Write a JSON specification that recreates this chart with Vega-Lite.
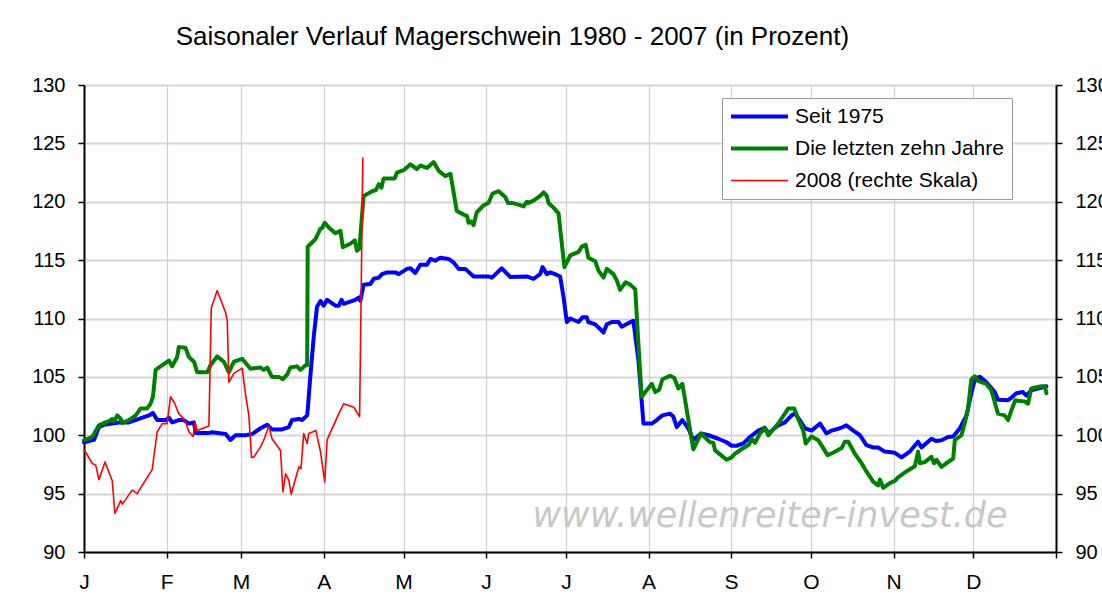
{
  "$schema": "https://vega.github.io/schema/vega-lite/v6.json",
  "width": 972,
  "height": 467,
  "autosize": "none",
  "padding": {"left": 84, "top": 85, "right": 46, "bottom": 45},
  "background": "white",
  "title": {
    "text": "Saisonaler Verlauf Magerschwein 1980 - 2007 (in Prozent)",
    "anchor": "start",
    "dx": 144,
    "offset": 25,
    "font": "Liberation Sans",
    "fontSize": 26,
    "fontWeight": "normal",
    "color": "black"
  },
  "datasets": {
    "blue": [
      {"day":0,"value":99.4},{"day":3.75,"value":99.6},{"day":5.6,"value":100.7},{"day":7.5,"value":100.9},{"day":13.1,"value":101.1},{"day":16.9,"value":101.1},{"day":20.6,"value":101.4},{"day":24.4,"value":101.7},{"day":25.9,"value":101.9},{"day":27.5,"value":101.3},{"day":30.6,"value":101.3},{"day":31.9,"value":101.5},{"day":33.1,"value":101.1},{"day":35.6,"value":101.3},{"day":37.5,"value":101.3},{"day":39.4,"value":101.0},{"day":41.3,"value":101.1},{"day":41.9,"value":100.2},{"day":46.9,"value":100.2},{"day":48.1,"value":100.25},{"day":53.2,"value":100.1},{"day":55.0,"value":99.6},{"day":56.9,"value":100.0},{"day":60.7,"value":100.0},{"day":63.1,"value":100.1},{"day":66.3,"value":100.6},{"day":68.8,"value":100.9},{"day":70.6,"value":100.5},{"day":74.4,"value":100.5},{"day":76.9,"value":100.7},{"day":78.1,"value":101.3},{"day":80.7,"value":101.4},{"day":81.9,"value":101.3},{"day":83.8,"value":101.7},{"day":84.1,"value":102.4},{"day":84.9,"value":104.8},{"day":86.3,"value":108.5},{"day":87.5,"value":111.0},{"day":88.8,"value":111.5},{"day":90.0,"value":111.1},{"day":91.3,"value":111.6},{"day":94.4,"value":111.1},{"day":95.7,"value":111.1},{"day":96.7,"value":111.6},{"day":97.5,"value":111.25},{"day":101.9,"value":111.6},{"day":103.2,"value":111.8},{"day":103.8,"value":111.5},{"day":105.0,"value":112.9},{"day":107.5,"value":112.95},{"day":108.8,"value":113.4},{"day":110.7,"value":113.5},{"day":111.9,"value":113.8},{"day":113.8,"value":113.95},{"day":116.9,"value":113.95},{"day":118.2,"value":113.8},{"day":121.3,"value":114.25},{"day":122.6,"value":114.3},{"day":124.4,"value":113.9},{"day":126.3,"value":114.6},{"day":128.8,"value":114.6},{"day":130.1,"value":115.1},{"day":131.9,"value":114.95},{"day":133.8,"value":115.2},{"day":136.9,"value":115.1},{"day":138.8,"value":114.8},{"day":140.7,"value":114.25},{"day":143.2,"value":114.25},{"day":146.3,"value":113.6},{"day":151.9,"value":113.6},{"day":153.2,"value":113.5},{"day":156.9,"value":114.3},{"day":160.1,"value":113.55},{"day":166.3,"value":113.6},{"day":168.8,"value":113.4},{"day":171.3,"value":113.8},{"day":172.2,"value":114.4},{"day":173.8,"value":113.8},{"day":175.1,"value":113.95},{"day":176.9,"value":113.8},{"day":178.8,"value":113.6},{"day":180.1,"value":111.8},{"day":181.3,"value":109.7},{"day":182.6,"value":110.0},{"day":185.7,"value":109.7},{"day":187.2,"value":110.1},{"day":188.8,"value":110.1},{"day":189.4,"value":109.7},{"day":192.0,"value":109.5},{"day":193.8,"value":109.1},{"day":195.1,"value":108.8},{"day":196.3,"value":109.5},{"day":198.2,"value":109.7},{"day":200.7,"value":109.7},{"day":201.9,"value":109.3},{"day":204.4,"value":109.6},{"day":206.3,"value":109.8},{"day":208.2,"value":106.4},{"day":210.1,"value":101.0},{"day":213.2,"value":101.0},{"day":215.1,"value":101.3},{"day":217.2,"value":101.7},{"day":220.1,"value":101.85},{"day":221.3,"value":101.6},{"day":222.6,"value":100.7},{"day":224.7,"value":101.3},{"day":226.9,"value":100.6},{"day":228.8,"value":99.6},{"day":231.7,"value":100.15},{"day":234.5,"value":100.0},{"day":238.2,"value":99.7},{"day":241.3,"value":99.4},{"day":243.2,"value":99.1},{"day":245.1,"value":99.1},{"day":247.6,"value":99.3},{"day":250.1,"value":99.85},{"day":253.2,"value":100.4},{"day":255.7,"value":100.65},{"day":257.0,"value":100.15},{"day":260.7,"value":100.85},{"day":263.2,"value":101.1},{"day":265.7,"value":101.7},{"day":267.0,"value":101.85},{"day":268.8,"value":101.3},{"day":270.7,"value":100.6},{"day":273.2,"value":100.4},{"day":276.4,"value":101.0},{"day":278.8,"value":100.15},{"day":280.7,"value":100.4},{"day":283.9,"value":100.6},{"day":286.3,"value":100.85},{"day":288.9,"value":100.4},{"day":291.4,"value":100.0},{"day":293.8,"value":99.15},{"day":296.4,"value":98.95},{"day":298.2,"value":98.95},{"day":300.7,"value":98.6},{"day":304.5,"value":98.5},{"day":307.0,"value":98.1},{"day":310.1,"value":98.6},{"day":313.2,"value":99.45},{"day":314.5,"value":98.95},{"day":318.2,"value":99.7},{"day":320.1,"value":99.5},{"day":322.0,"value":99.57},{"day":324.5,"value":99.85},{"day":326.4,"value":99.9},{"day":328.9,"value":100.6},{"day":331.4,"value":101.7},{"day":333.2,"value":103.6},{"day":334.7,"value":104.9},{"day":336.4,"value":105.0},{"day":338.8,"value":104.55},{"day":342.0,"value":103.7},{"day":343.2,"value":103.05},{"day":347.0,"value":103.0},{"day":348.2,"value":103.2},{"day":350.1,"value":103.6},{"day":352.6,"value":103.7},{"day":353.9,"value":103.4},{"day":355.7,"value":103.85},{"day":358.3,"value":104.0},{"day":361.4,"value":104.2}
    ],
    "green": [
      {"day":0,"value":99.57},{"day":3.1,"value":99.86},{"day":5.6,"value":100.85},{"day":7.5,"value":101.05},{"day":9.4,"value":101.2},{"day":10.6,"value":101.4},{"day":11.3,"value":101.2},{"day":12.5,"value":101.7},{"day":13.8,"value":101.4},{"day":14.4,"value":101.05},{"day":16.9,"value":101.3},{"day":19.4,"value":101.7},{"day":21.3,"value":102.3},{"day":23.7,"value":102.3},{"day":25.0,"value":102.7},{"day":25.9,"value":103.3},{"day":26.9,"value":105.6},{"day":29.4,"value":106.0},{"day":31.9,"value":106.4},{"day":33.1,"value":105.9},{"day":35.0,"value":106.7},{"day":35.6,"value":107.55},{"day":38.1,"value":107.5},{"day":39.4,"value":106.7},{"day":41.3,"value":106.3},{"day":42.5,"value":105.4},{"day":46.3,"value":105.4},{"day":47.5,"value":106.0},{"day":50.0,"value":106.75},{"day":52.5,"value":106.3},{"day":54.4,"value":105.4},{"day":56.3,"value":106.3},{"day":59.4,"value":106.55},{"day":62.5,"value":105.7},{"day":66.3,"value":105.8},{"day":67.5,"value":105.6},{"day":68.8,"value":105.8},{"day":70.6,"value":105.0},{"day":73.2,"value":105.0},{"day":74.7,"value":104.8},{"day":76.3,"value":105.2},{"day":77.5,"value":105.8},{"day":80.0,"value":105.9},{"day":81.3,"value":105.6},{"day":83.2,"value":106.0},{"day":83.8,"value":106.0},{"day":84.0,"value":116.15},{"day":86.9,"value":116.8},{"day":88.8,"value":117.7},{"day":89.4,"value":117.75},{"day":90.4,"value":118.2},{"day":91.9,"value":117.8},{"day":94.4,"value":117.3},{"day":96.3,"value":117.5},{"day":97.2,"value":116.1},{"day":100.0,"value":116.4},{"day":101.7,"value":116.7},{"day":102.5,"value":115.8},{"day":103.4,"value":116.0},{"day":105.0,"value":120.5},{"day":108.2,"value":120.9},{"day":109.6,"value":121.0},{"day":110.7,"value":121.5},{"day":111.7,"value":121.2},{"day":112.5,"value":122.0},{"day":116.7,"value":122.0},{"day":117.5,"value":122.5},{"day":120.0,"value":122.7},{"day":122.6,"value":123.2},{"day":125.0,"value":122.8},{"day":126.3,"value":123.1},{"day":128.8,"value":122.9},{"day":131.3,"value":123.4},{"day":133.2,"value":122.65},{"day":135.7,"value":122.2},{"day":137.6,"value":122.4},{"day":140.0,"value":119.2},{"day":142.6,"value":118.9},{"day":143.8,"value":118.8},{"day":144.4,"value":118.2},{"day":145.4,"value":118.3},{"day":146.3,"value":118.0},{"day":147.5,"value":119.1},{"day":150.1,"value":119.7},{"day":151.9,"value":119.9},{"day":153.4,"value":120.7},{"day":155.7,"value":120.9},{"day":158.2,"value":120.4},{"day":159.2,"value":119.9},{"day":160.7,"value":119.9},{"day":163.2,"value":119.75},{"day":165.1,"value":119.6},{"day":166.3,"value":120.0},{"day":166.9,"value":119.9},{"day":168.8,"value":120.1},{"day":171.3,"value":120.5},{"day":172.6,"value":120.8},{"day":173.8,"value":120.5},{"day":174.4,"value":119.9},{"day":176.3,"value":119.5},{"day":178.2,"value":119.0},{"day":180.4,"value":114.4},{"day":182.6,"value":115.4},{"day":185.7,"value":115.7},{"day":186.9,"value":116.15},{"day":188.4,"value":116.3},{"day":189.4,"value":115.2},{"day":192.0,"value":114.9},{"day":193.2,"value":114.1},{"day":195.1,"value":113.5},{"day":196.3,"value":114.25},{"day":198.8,"value":113.8},{"day":200.1,"value":113.25},{"day":201.3,"value":112.45},{"day":203.4,"value":113.1},{"day":205.1,"value":112.9},{"day":207.0,"value":112.5},{"day":208.2,"value":107.8},{"day":209.4,"value":103.3},{"day":213.2,"value":104.4},{"day":214.5,"value":103.7},{"day":216.0,"value":103.9},{"day":217.2,"value":104.8},{"day":220.1,"value":105.1},{"day":221.7,"value":104.9},{"day":223.2,"value":104.0},{"day":224.7,"value":104.4},{"day":228.8,"value":98.8},{"day":231.7,"value":100.15},{"day":235.1,"value":99.4},{"day":236.3,"value":99.35},{"day":237.0,"value":98.7},{"day":239.2,"value":98.3},{"day":241.3,"value":97.9},{"day":243.2,"value":98.1},{"day":244.4,"value":98.4},{"day":246.9,"value":98.8},{"day":249.7,"value":99.2},{"day":250.7,"value":99.7},{"day":252.0,"value":99.35},{"day":253.8,"value":100.15},{"day":255.7,"value":100.6},{"day":257.0,"value":100.0},{"day":260.7,"value":101.0},{"day":264.5,"value":102.3},{"day":266.7,"value":102.3},{"day":268.2,"value":101.4},{"day":270.1,"value":100.4},{"day":271.0,"value":99.3},{"day":273.2,"value":99.9},{"day":275.7,"value":99.57},{"day":276.9,"value":99.15},{"day":279.2,"value":98.3},{"day":281.3,"value":98.5},{"day":284.5,"value":98.9},{"day":285.7,"value":99.45},{"day":287.0,"value":99.45},{"day":289.5,"value":98.4},{"day":292.0,"value":97.6},{"day":293.8,"value":96.9},{"day":296.4,"value":96.0},{"day":298.2,"value":95.7},{"day":298.9,"value":96.2},{"day":300.1,"value":95.5},{"day":302.6,"value":95.9},{"day":304.5,"value":96.1},{"day":305.7,"value":96.4},{"day":308.8,"value":96.9},{"day":312.0,"value":97.35},{"day":313.2,"value":98.6},{"day":313.9,"value":97.6},{"day":315.7,"value":97.7},{"day":318.2,"value":98.15},{"day":319.2,"value":97.6},{"day":320.1,"value":97.9},{"day":322.0,"value":97.3},{"day":323.8,"value":97.6},{"day":326.4,"value":98.0},{"day":327.0,"value":99.57},{"day":329.5,"value":100.0},{"day":330.7,"value":101.0},{"day":332.0,"value":102.3},{"day":333.2,"value":104.8},{"day":334.5,"value":105.05},{"day":335.7,"value":104.65},{"day":338.8,"value":104.4},{"day":340.7,"value":103.85},{"day":342.0,"value":102.85},{"day":343.2,"value":101.85},{"day":345.7,"value":101.7},{"day":347.0,"value":101.3},{"day":348.2,"value":102.1},{"day":349.7,"value":102.99},{"day":353.2,"value":102.9},{"day":354.5,"value":102.7},{"day":355.7,"value":104.0},{"day":359.5,"value":104.2},{"day":360.8,"value":104.2},{"day":361.4,"value":103.6}
    ],
    "red": [
      {"day":0,"value":98.78},{"day":3.1,"value":97.58},{"day":4.4,"value":97.44},{"day":5.6,"value":96.2},{"day":7.9,"value":97.7},{"day":10.6,"value":96.1},{"day":11.6,"value":93.3},{"day":13.8,"value":94.4},{"day":14.4,"value":94.1},{"day":18.1,"value":95.3},{"day":20.0,"value":95.0},{"day":21.3,"value":95.5},{"day":25.6,"value":97.05},{"day":27.5,"value":100.3},{"day":29.4,"value":101.0},{"day":31.2,"value":101.0},{"day":32.5,"value":103.3},{"day":33.8,"value":102.85},{"day":35.6,"value":101.85},{"day":37.9,"value":101.3},{"day":39.4,"value":100.3},{"day":41.0,"value":99.9},{"day":41.6,"value":101.1},{"day":42.5,"value":100.4},{"day":46.9,"value":100.8},{"day":47.8,"value":110.9},{"day":50.0,"value":112.4},{"day":53.2,"value":110.5},{"day":53.8,"value":109.8},{"day":54.4,"value":104.55},{"day":56.3,"value":105.3},{"day":59.4,"value":105.75},{"day":60.6,"value":103.6},{"day":61.9,"value":101.7},{"day":62.9,"value":98.1},{"day":63.8,"value":98.15},{"day":66.3,"value":99.0},{"day":67.5,"value":99.57},{"day":69.4,"value":100.8},{"day":70.6,"value":99.7},{"day":73.8,"value":98.7},{"day":74.7,"value":95.15},{"day":75.7,"value":96.7},{"day":76.9,"value":96.15},{"day":77.8,"value":94.95},{"day":80.7,"value":97.3},{"day":81.5,"value":97.15},{"day":82.5,"value":100.15},{"day":83.8,"value":99.3},{"day":84.4,"value":100.15},{"day":87.1,"value":100.4},{"day":88.8,"value":98.6},{"day":90.4,"value":96.0},{"day":91.3,"value":99.6},{"day":95.7,"value":101.85},{"day":97.5,"value":102.7},{"day":101.3,"value":102.4},{"day":103.5,"value":101.6},{"day":104.7,"value":123.8}
    ],
    "mark": [
      {"day":257.6,"value":93.1,"label":"www.wellenreiter-invest.de"}
    ]
  },
  "layer": [
    {
      "layer": [
        {
          "data": {"name": "mark"},
          "mark": {"type": "text", "font": "DejaVu Sans", "fontStyle": "italic", "fontSize": 35, "color": "#c8c8c8", "align": "center", "baseline": "middle"},
          "encoding": {
            "x": {"field": "day", "type": "quantitative", "scale": {"domain": [0, 365], "nice": false, "zero": false},
              "axis": {"values": [0,31,59,90,120,151,181,212,243,273,304,334,365],
                "labelExpr": "['J','F','M','A','M','J','J','A','S','O','N','D',''][indexof([0,31,59,90,120,151,181,212,243,273,304,334,365], datum.value)]",
                "grid": true, "gridColor": "#cfcfcf", "gridWidth": 1.2, "labelFlush": false, "labelPadding": 13, "labelFontSize": 21, "labelBound": false, "labelOverlap": false}},
            "y": {"field": "value", "type": "quantitative", "scale": {"domain": [90, 130], "nice": false, "zero": false},
              "axis": {"orient": "left", "values": [90,95,100,105,110,115,120,125,130], "grid": true, "gridColor": "#d6d6d6", "gridWidth": 2, "labelPadding": 13, "labelOverlap": false}},
            "text": {"field": "label"}
          }
        },
        {
          "data": {"name": "blue"},
          "mark": {"type": "line", "strokeWidth": 4, "strokeJoin": "round", "strokeCap": "round"},
          "encoding": {
            "x": {"field": "day", "type": "quantitative"},
            "y": {"field": "value", "type": "quantitative"},
            "color": {"datum": "Seit 1975", "type": "nominal",
              "scale": {"domain": ["Seit 1975", "Die letzten zehn Jahre", "2008 (rechte Skala)"], "range": ["#0000ff", "#008000", "#ff0000"]},
              "legend": {"orient": "none", "legendX": 638, "legendY": 13, "title": null,
                "encode": {"symbols": {"update": {"strokeWidth": {"signal": "datum.value === '2008 (rechte Skala)' ? 1.6 : 4"}}}}}}
          }
        },
        {
          "data": {"name": "green"},
          "mark": {"type": "line", "strokeWidth": 4, "strokeJoin": "round", "strokeCap": "round"},
          "encoding": {
            "x": {"field": "day", "type": "quantitative"},
            "y": {"field": "value", "type": "quantitative"},
            "color": {"datum": "Die letzten zehn Jahre", "type": "nominal"}
          }
        }
      ]
    },
    {
      "data": {"name": "red"},
      "mark": {"type": "line", "strokeWidth": 1.6, "strokeJoin": "round"},
      "encoding": {
        "x": {"field": "day", "type": "quantitative"},
        "y": {"field": "value", "type": "quantitative", "scale": {"domain": [90, 130], "nice": false, "zero": false},
          "axis": {"orient": "right", "values": [90,95,100,105,110,115,120,125,130], "grid": false, "labelPadding": 13, "labelOverlap": false}},
        "color": {"datum": "2008 (rechte Skala)", "type": "nominal"}
      }
    }
  ],
  "resolve": {"scale": {"y": "independent"}},
  "config": {
    "view": {"stroke": null},
    "font": "Liberation Sans",
    "axis": {
      "title": null,
      "labelFont": "Liberation Sans",
      "labelFontSize": 20,
      "labelColor": "black",
      "domainColor": "black",
      "domainWidth": 2,
      "tickColor": "black",
      "tickSize": 6,
      "tickWidth": 1.5
    },
    "legend": {
      "symbolType": "M-3,0H3",
      "symbolSize": 361,
      "symbolOffset": 19,
      "symbolStrokeWidth": 4,
      "labelFont": "Liberation Sans",
      "labelFontSize": 21,
      "labelColor": "black",
      "labelLimit": 400,
      "labelOffset": 25,
      "strokeColor": "#9a9a9a",
      "fillColor": "white",
      "padding": 8,
      "rowPadding": 10
    }
  }
}
